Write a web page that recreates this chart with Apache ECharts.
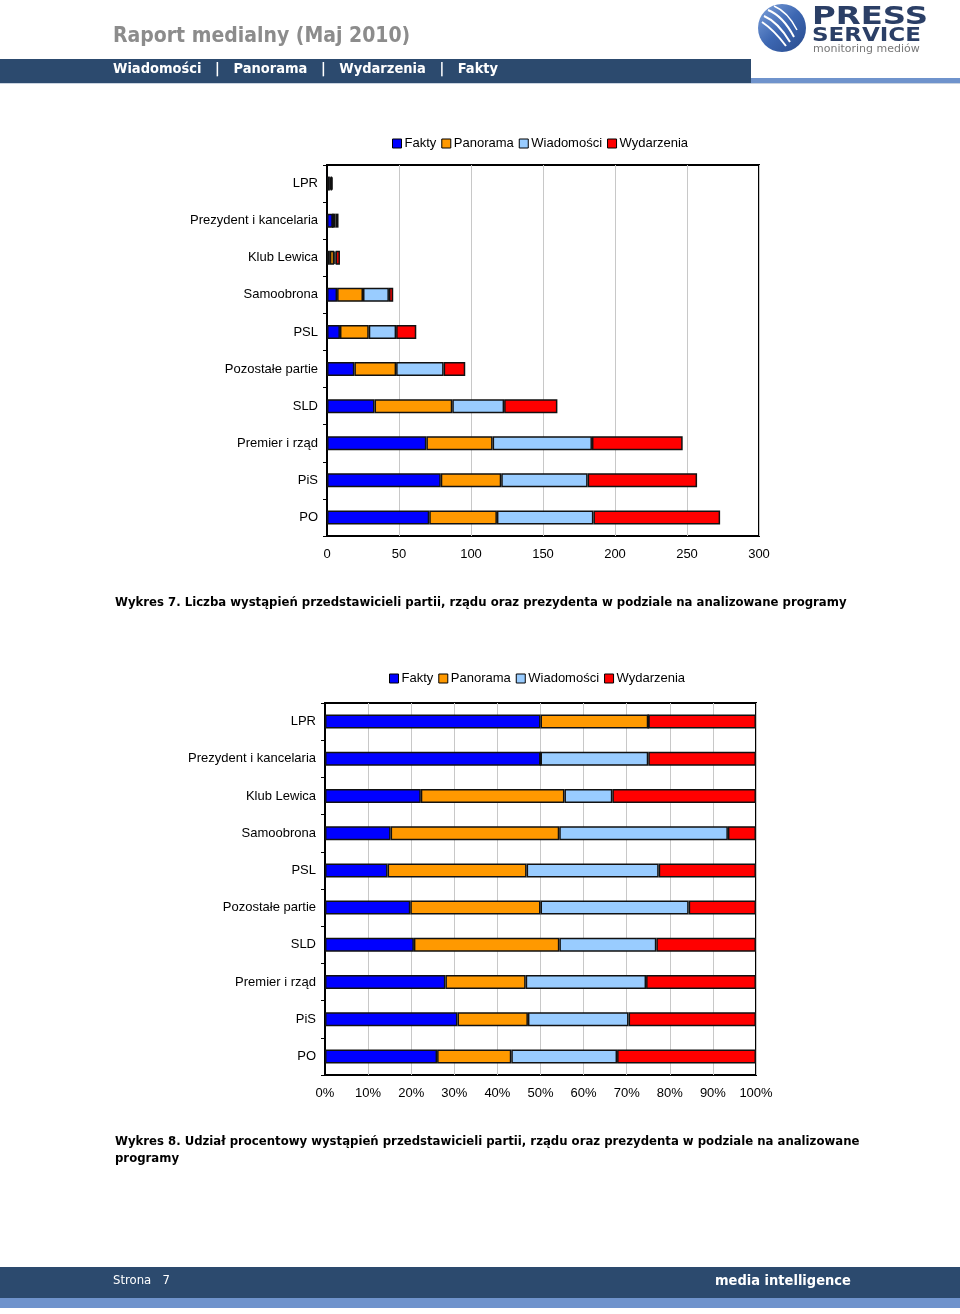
<!DOCTYPE html>
<html>
<head>
<meta charset="utf-8">
<script src="https://cdn.jsdelivr.net/npm/echarts@6/dist/echarts.min.js"></script>
<style>
html,body{margin:0;padding:0;background:#fff;}
#chart{width:960px;height:1314px;}
</style>
</head>
<body>
<div id="chart"></div>
<script>
// ---- data ----
const categories = ['LPR','Prezydent i kancelaria','Klub Lewica','Samoobrona','PSL','Pozostałe partie','SLD','Premier i rząd','PiS','PO'];
const seriesNames = ['Fakty','Panorama','Wiadomości','Wydarzenia'];
const fakty      = [2, 4, 2, 7,  9, 19, 33, 69, 79, 71];
const panorama   = [1, 0, 3, 18, 20, 29, 54, 46, 42, 47];
const wiadomosci = [0, 2, 1, 18, 19, 33, 36, 69, 60, 67];
const wydarzenia = [1, 2, 3, 3,  14, 15, 37, 63, 76, 88];
const countTicks = [0, 50, 100, 150, 200, 250, 300];
const pctTicks = [0,10,20,30,40,50,60,70,80,90,100];

const colors = ['#0000ff','#ff9900','#99ccff','#ff0000'];
const allSeries = [fakty, panorama, wiadomosci, wydarzenia];
const totals = categories.map((c,i)=>allSeries.reduce((s,a)=>s+a[i],0));
const pctSeries = allSeries.map(a=>a.map((v,i)=>v/totals[i]*100));

const LBL = 'Liberation Sans, Arial, sans-serif';
const TAH = '"DejaVu Sans Condensed", "DejaVu Sans", sans-serif';

const chart = echarts.init(document.getElementById('chart'), null, {renderer:'canvas'});

function yAxis(gi){
  return {
    type:'category', gridIndex:gi, data:categories, inverse:true,
    axisLine:{show:true, lineStyle:{color:'#000', width:2}},
    axisTick:{show:true, inside:false, length:4, lineStyle:{color:'#000'}},
    axisLabel:{color:'#000', fontFamily:LBL, fontSize:13, margin:9},
    splitLine:{show:false}
  };
}

const series = [];
seriesNames.forEach((n,k)=>{
  series.push({
    name:n, type:'bar', stack:'a', xAxisIndex:0, yAxisIndex:0,
    data:allSeries[k], barWidth:14,
    itemStyle:{color:colors[k], borderColor:'#111', borderWidth:1.5},
    emphasis:{disabled:true}
  });
});
seriesNames.forEach((n,k)=>{
  series.push({
    name:n, type:'bar', stack:'b', xAxisIndex:1, yAxisIndex:1,
    data:pctSeries[k], barWidth:14,
    itemStyle:{color:colors[k], borderColor:'#111', borderWidth:1.5},
    emphasis:{disabled:true}
  });
});

const legendBase = {
  data:seriesNames, itemWidth:9, itemHeight:9, itemGap:5,
  icon:'rect',
  itemStyle:{borderColor:'#000', borderWidth:1},
  textStyle:{fontFamily:LBL, fontSize:13, color:'#000', padding:[0,0,0,-2]},
  selectedMode:false, padding:0
};

const option = {
  animation:false,
  backgroundColor:'#fff',
  legend:[
    Object.assign({}, legendBase, {left:392, top:137}),
    Object.assign({}, legendBase, {left:389, top:672})
  ],
  grid:[
    {left:327, top:165, width:432, height:371, show:true, borderColor:'#000', borderWidth:2, backgroundColor:'#fff'},
    {left:325, top:703, width:431, height:372, show:true, borderColor:'#000', borderWidth:2, backgroundColor:'#fff'}
  ],
  xAxis:[
    {type:'value', gridIndex:0, min:countTicks[0], max:countTicks[countTicks.length-1], interval:countTicks[1]-countTicks[0],
     axisLine:{show:false}, axisTick:{show:false},
     axisLabel:{color:'#000', fontFamily:LBL, fontSize:13, margin:12},
     splitLine:{show:true, lineStyle:{color:'#c8c8c8', width:1}}},
    {type:'value', gridIndex:1, min:pctTicks[0], max:pctTicks[pctTicks.length-1], interval:pctTicks[1]-pctTicks[0],
     axisLine:{show:false}, axisTick:{show:false},
     axisLabel:{color:'#000', fontFamily:LBL, fontSize:13, margin:12, formatter:'{value}%'},
     splitLine:{show:true, lineStyle:{color:'#c8c8c8', width:1}}}
  ],
  yAxis:[yAxis(0), yAxis(1)],
  series:series,
  graphic:[
    // header
    {type:'text', left:113, top:26, style:{text:'Raport medialny (Maj 2010)', fill:'#8c8c8c', font:'bold 21px '+TAH}},
    {type:'rect', shape:{x:0, y:59, width:751, height:24}, style:{fill:'#2c4a6e'}},
    {type:'rect', shape:{x:751, y:78, width:209, height:5}, style:{fill:'#6f93cc'}},
    {type:'rect', shape:{x:0, y:83, width:960, height:1}, style:{fill:'#c9d3e0'}},
    {type:'text', left:113, top:62, style:{text:'Wiadomości   |   Panorama   |   Wydarzenia   |   Fakty', fill:'#fff', font:'bold 14.5px '+TAH}},
    // logo
    {type:'circle', shape:{cx:782, cy:28, r:24}, style:{fill:{type:'linear',x:0,y:0,x2:1,y2:1,colorStops:[{offset:0,color:'#7fa3dc'},{offset:0.5,color:'#3d67b2'},{offset:1,color:'#274a8c'}]}}},
    {type:'bezierCurve', shape:{x1:764,y1:16,x2:790,y2:42,cpx1:778,cpy1:22}, style:{stroke:'#fff', lineWidth:2, fill:null}},
    {type:'bezierCurve', shape:{x1:762,y1:22,x2:786,y2:46,cpx1:774,cpy1:30}, style:{stroke:'#fff', lineWidth:2, fill:null}},
    {type:'bezierCurve', shape:{x1:768,y1:10,x2:794,y2:37,cpx1:783,cpy1:16}, style:{stroke:'#fff', lineWidth:2, fill:null}},
    {type:'bezierCurve', shape:{x1:774,y1:6,x2:797,y2:30,cpx1:788,cpy1:12}, style:{stroke:'#fff', lineWidth:1.5, fill:null}},
    {type:'text', x:812, y:6, scaleX:1.35, style:{text:'PRESS', fill:'#2b3f66', font:'900 24px "DejaVu Sans", sans-serif'}},
    {type:'text', x:812, y:26, scaleX:1.15, style:{text:'SERVICE', fill:'#2b3f66', font:'900 20px "DejaVu Sans", sans-serif'}},
    {type:'text', x:813, y:44, scaleX:1.1, style:{text:'monitoring mediów', fill:'#777', font:'10px "DejaVu Sans", sans-serif'}},
    // captions
    {type:'text', left:115, top:596, style:{text:'Wykres 7. Liczba wystąpień przedstawicieli partii, rządu oraz prezydenta w podziale na analizowane programy', fill:'#000', font:'bold 13px '+TAH}},
    {type:'text', left:115, top:1133, style:{text:'Wykres 8. Udział procentowy wystąpień przedstawicieli partii, rządu oraz prezydenta w podziale na analizowane\nprogramy', fill:'#000', font:'bold 13px '+TAH, lineHeight:17}},
    // footer
    {type:'rect', shape:{x:0, y:1267, width:960, height:31}, style:{fill:'#2c4a6e'}},
    {type:'rect', shape:{x:0, y:1298, width:960, height:10}, style:{fill:'#6f93cc'}},
    {type:'text', left:113, top:1274, style:{text:'Strona   7', fill:'#fff', font:'13px '+TAH}},
    {type:'text', left:715, top:1274, style:{text:'media intelligence', fill:'#fff', font:'bold 14.5px '+TAH}}
  ]
};
chart.setOption(option);
</script>
</body>
</html>
